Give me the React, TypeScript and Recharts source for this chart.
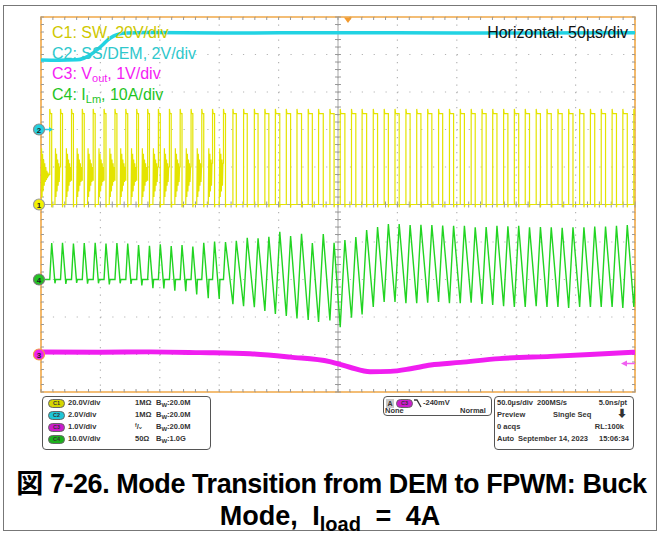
import { LineChart, Line, XAxis, YAxis, CartesianGrid, ReferenceLine, ReferenceDot, ReferenceArea } from 'recharts'

// scope screen: 10 x 10 divisions, time in µs (50 µs/div)
const xDivTicks = [0, 50, 100, 150, 200, 250, 300, 350, 400, 450, 500]
const yDivTicks = [-5, -4, -3, -2, -1, 0, 1, 2, 3, 4, 5]

// one entry per switching cycle: time of the inductor current peak (µs)
const cyclePeakUs = [
  9.0, 18.1, 27.3, 36.4, 45.6, 54.7, 63.9, 73.0, 82.1, 91.3,
  100.4, 109.6, 118.7, 127.8, 137.0, 146.1, 155.3, 164.4, 173.6, 182.7,
  191.8, 201.0, 210.1, 219.3, 228.4, 237.6, 246.7, 255.8, 265.0, 274.1,
  283.3, 292.4, 301.5, 310.7, 319.8, 329.0, 338.1, 347.3, 356.4, 365.5,
  374.7, 383.8, 393.0, 402.1, 411.2, 420.4, 429.5, 438.7, 447.8, 457.0,
  466.1, 475.2, 484.4, 493.5, 502.7,
]
// peak inductor current of each cycle (A)
const ilPeakA = [
  9.7, 9.8, 9.6, 9.7, 9.8, 9.6, 9.7, 9.6, 9.2, 9.0,
  9.4, 8.9, 9.2, 8.8, 9.8, 10.1, 10.0, 10.3, 11.1, 11.0,
  11.4, 12.7, 11.6, 12.2, 9.7, 12.1, 9.8, 10.5, 11.3, 13.2,
  14.0, 14.8, 14.8, 14.5, 14.6, 14.5, 14.4, 14.3, 14.3, 13.9,
  14.0, 14.3, 14.2, 14.3, 13.9, 14.0, 13.9, 13.8, 13.9, 13.9,
  14.1, 14.1, 14.3, 14.5, 14.4,
]
// lowest current reached after each peak (A)
const ilLowA = [
  -1.0, -1.2, -0.9, -1.1, -1.0, -1.3, -1.0, -1.2, -1.6, -2.3,
  -2.4, -3.0, -3.1, -4.0, -5.0, -5.2, -6.6, -7.1, -7.4, -8.4,
  -9.2, -9.7, -10.4, -10.8, -11.3, -10.9, -12.7, -10.2, -9.3, -7.3,
  -6.0, -6.0, -6.3, -6.3, -6.2, -6.0, -6.3, -6.3, -6.2, -6.5,
  -6.8, -7.1, -7.3, -7.3, -7.1, -7.3, -7.3, -7.6, -7.3, -7.3,
  -7.3, -7.3, -7.6, -7.3, -7.3,
]
// first cycles run in DEM (current parks at zero)
const DEM_CYCLES = 16

// SW node ringing while the current sits at zero (V)
const swRingV = [30, 4, 27, 7, 24, 10, 22, 12, 20, 13, 18, 14, 17, 15, 16, 15.5]
const SW_HIGH_V = 48.5
const SW_SPIKE_V = 51

// C2 SS/DEM pin (V)
const ssTimeUs = [0, 15, 30, 36, 42, 47, 52, 56, 61, 66, 72, 90, 150, 250, 350, 500]
const ssVolts = [3.71, 3.7, 3.72, 3.8, 4.0, 4.24, 4.52, 4.77, 4.98, 5.1, 5.15, 5.17, 5.15, 5.16, 5.15, 5.16]

// C3 output voltage deviation (V)
const voutTimeUs = [0, 50, 92, 134, 176, 210, 243, 260, 277, 294, 311, 328, 353, 386, 429, 462, 500]
const voutDeltaV = [0.07, 0.06, 0.07, 0.05, 0.02, -0.07, -0.19, -0.34, -0.46, -0.45, -0.38, -0.28, -0.21, -0.11, -0.05, 0.0, 0.06]

// channel scale (unit/div) and ground position (div)
const chScale = { sw: 20, ss: 2, vout: 1, il: 10 }
const chOffset = { sw: 0, ss: 2, vout: -4, il: -2 }

const RISE_A_PER_US = 5.9
const FALL_A_PER_US = 3.9
const RING_STEP_US = 0.45

type Pt = { t: number; v: number }

const riseFrom = (k: number) => (k === 0 || k - 1 < DEM_CYCLES ? 0 : ilLowA[k - 1])
const riseStartUs = (k: number) => cyclePeakUs[k] - (ilPeakA[k] - riseFrom(k)) / RISE_A_PER_US
const dipUs = (k: number) => cyclePeakUs[k] + (ilPeakA[k] - ilLowA[k]) / FALL_A_PER_US

function buildIl(): Pt[] {
  const pts: Pt[] = [{ t: 0, v: 0 }]
  cyclePeakUs.forEach((tp, k) => {
    pts.push({ t: riseStartUs(k), v: riseFrom(k) })
    pts.push({ t: tp, v: ilPeakA[k] })
    if (k < DEM_CYCLES) {
      pts.push({ t: dipUs(k), v: ilLowA[k] })
      pts.push({ t: dipUs(k) + 0.6, v: 0 })
    }
  })
  return pts
}

function ring(pts: Pt[], from: number, until: number) {
  let level = 0
  let t = from
  for (const v of swRingV) {
    t += RING_STEP_US
    if (t >= until - 0.2) break
    pts.push({ t, v })
    level = v
  }
  return level
}

function buildSw(): Pt[] {
  const pts: Pt[] = [{ t: 0, v: 0 }]
  let level = ring(pts, 0, riseStartUs(0))
  cyclePeakUs.forEach((tp, k) => {
    const ts = riseStartUs(k)
    pts.push(
      { t: ts, v: level },
      { t: ts, v: SW_SPIKE_V },
      { t: ts + 0.5, v: SW_HIGH_V },
      { t: tp, v: SW_HIGH_V },
      { t: tp, v: -1.5 },
      { t: tp + 0.3, v: 0 }
    )
    level = 0
    if (k < DEM_CYCLES) {
      const tz = dipUs(k)
      pts.push({ t: tz, v: 0 })
      level = ring(pts, tz, riseStartUs(k + 1))
    }
  })
  return pts
}

const toDiv = (pts: Pt[], ch: keyof typeof chScale) =>
  pts.map((p) => ({ t: p.t, y: chOffset[ch] + p.v / chScale[ch] }))

const swData = toDiv(buildSw(), 'sw')
const ilData = toDiv(buildIl(), 'il')
const ssData = toDiv(ssTimeUs.map((t, i) => ({ t, v: ssVolts[i] })), 'ss')
const voutData = toDiv(voutTimeUs.map((t, i) => ({ t, v: voutDeltaV[i] })), 'vout')

// minor ticks, 5 per division
const minorX = Array.from({ length: 51 }, (_, i) => i * 10)
const minorY = Array.from({ length: 51 }, (_, i) => -5 + i * 0.2)
const TICK_X = 2.5 // µs, ~3px
const TICK_Y = 0.08 // div, ~3px

const FONT = '"Liberation Sans", Arial, "Noto Sans CJK JP", sans-serif'

const markers = [
  { ch: 'sw', label: '1', fill: '#f2f200', ring: '#9a9a9a' },
  { ch: 'il', label: '4', fill: '#22c322', ring: '#7a7a7a' },
  { ch: 'vout', label: '3', fill: '#f020f0', ring: '#f0a040' },
  { ch: 'ss', label: '2', fill: '#22d0e0', ring: '#8a8a8a' },
] as const

function ChannelMarker(props: any) {
  const { cx, cy, fill, ring: ringColor, label, arrow } = props
  const x = cx - 2
  return (
    <g>
      {arrow && <line x1={x + 5} y1={cy} x2={x + 12} y2={cy} stroke={fill} strokeWidth={1.5} />}
      {arrow && <polygon points={`${x + 14},${cy} ${x + 10},${cy - 2.5} ${x + 10},${cy + 2.5}`} fill={fill} />}
      <circle cx={x} cy={cy} r={5.5} fill={fill} stroke={ringColor} strokeWidth={1.2} />
      <text x={x} y={cy + 3} textAnchor="middle" fontSize={8} fontWeight={700} fontFamily={FONT} fill="#222">
        {label}
      </text>
    </g>
  )
}

const chLabels = [
  { text: ['C1: SW, 20V/div'], color: '#cfc800' },
  { text: ['C2: SS/DEM, 2V/div'], color: '#2ec8cc' },
  { text: ['C3: V', 'out', ', 1V/div'], color: '#f41cf4' },
  { text: ['C4: I', 'Lm', ', 10A/div'], color: '#1fc41f' },
]

const pillColors = ['#d6d600', '#1ec6d6', '#cc1ccc', '#1cb01c']
const panelScale = ['20.0V/div', '2.0V/div', '1.0V/div', '10.0V/div']
const panelTerm = ['1MΩ', '1MΩ', 'ᶠ/ᵥ', '50Ω']
const panelBw = ['20.0M', '20.0M', '20.0M', '1.0G']

const txt: React.CSSProperties = {
  position: 'absolute',
  fontSize: 7.5,
  fontWeight: 700,
  color: '#333',
  lineHeight: '12px',
  whiteSpace: 'nowrap',
  fontFamily: FONT,
}

function Pill({ x, y, color, label }: { x: number; y: number; color: string; label: string }) {
  return (
    <div
      style={{
        position: 'absolute', left: x, top: y, width: 17, height: 9, boxSizing: 'border-box',
        borderRadius: 5, background: color, border: '1px solid #666', fontSize: 5.5,
        fontWeight: 700, color: '#333', textAlign: 'center', lineHeight: '7px', fontFamily: FONT,
      }}
    >
      {label}
    </div>
  )
}

const box: React.CSSProperties = {
  position: 'absolute',
  border: '1px solid #555',
  borderRadius: 4,
  boxSizing: 'border-box',
  background: '#fff',
}

export default function App() {
  const rows = [403, 415, 427, 439]
  return (
    <div style={{ position: 'absolute', left: 0, top: 0, width: 660, height: 534, background: '#fff', overflow: 'hidden' }}>
      <div style={{ position: 'absolute', left: 3, top: 5, width: 654, height: 526, border: '1.5px solid #777', boxSizing: 'border-box' }} />

      <div style={{ position: 'absolute', left: 0, top: 0 }}>
        <LineChart width={660} height={534} margin={{ top: 17, right: 25, bottom: 142, left: 41 }}>
          <XAxis type="number" dataKey="t" domain={[0, 500]} ticks={xDivTicks} hide allowDataOverflow />
          <YAxis type="number" domain={[-5, 5]} ticks={yDivTicks} hide allowDataOverflow />
          <CartesianGrid vertical={false} stroke="#b4b4b4" strokeWidth={1.2} strokeDasharray="1.2 10.68" />
          <CartesianGrid horizontal={false} stroke="#b4b4b4" strokeWidth={1.2} strokeDasharray="1.2 6.3" />
          <ReferenceLine x={250} stroke="#a8a8a8" />
          <ReferenceLine y={0} stroke="#a8a8a8" />
          {minorX.map((t) => (
            <ReferenceLine key={`tx${t}`} segment={[{ x: t, y: 5 }, { x: t, y: 5 - TICK_Y }]} stroke="#999" />
          ))}
          {minorX.map((t) => (
            <ReferenceLine key={`bx${t}`} segment={[{ x: t, y: -5 }, { x: t, y: -5 + TICK_Y }]} stroke="#999" />
          ))}
          {minorX.map((t) => (
            <ReferenceLine key={`cx${t}`} segment={[{ x: t, y: -TICK_Y }, { x: t, y: TICK_Y }]} stroke="#999" />
          ))}
          {minorY.map((v) => (
            <ReferenceLine key={`ly${v}`} segment={[{ x: 0, y: v }, { x: TICK_X, y: v }]} stroke="#999" />
          ))}
          {minorY.map((v) => (
            <ReferenceLine key={`ry${v}`} segment={[{ x: 500 - TICK_X, y: v }, { x: 500, y: v }]} stroke="#999" />
          ))}
          {minorY.map((v) => (
            <ReferenceLine key={`cy${v}`} segment={[{ x: 250 - TICK_X, y: v }, { x: 250 + TICK_X, y: v }]} stroke="#999" />
          ))}

          <Line data={swData} dataKey="y" type="linear" stroke="#e4e400" strokeWidth={1.2} dot={false} activeDot={false} isAnimationActive={false} />
          <Line data={ssData} dataKey="y" type="monotone" stroke="#22d3e3" strokeWidth={3.5} dot={false} activeDot={false} isAnimationActive={false} />
          <Line data={voutData} dataKey="y" type="monotone" stroke="#f01ef0" strokeWidth={5} dot={false} activeDot={false} isAnimationActive={false} />
          <Line data={ilData} dataKey="y" type="linear" stroke="#22d422" strokeWidth={1.4} dot={false} activeDot={false} isAnimationActive={false} />

          <ReferenceArea x1={0} x2={500} y1={-5} y2={5} fill="none" fillOpacity={0} stroke="#f0a848" strokeWidth={1.6} />

          {markers.map((m) => (
            <ReferenceDot
              key={m.label}
              x={0}
              y={chOffset[m.ch]}
              r={5}
              shape={(p: any) => (
                <ChannelMarker cx={p.cx} cy={p.cy} fill={m.fill} ring={m.ring} label={m.label} arrow={m.label === '2'} />
              )}
            />
          ))}
          {/* trigger position */}
          <ReferenceDot
            x={258.4}
            y={5}
            r={4}
            shape={(p: any) => (
              <polygon points={`${p.cx - 4},${p.cy + 0.5} ${p.cx + 4},${p.cy + 0.5} ${p.cx},${p.cy + 6}`} fill="#f29a2e" />
            )}
          />
          {/* trigger level on C3: -240mV */}
          <ReferenceDot
            x={500}
            y={chOffset.vout - 0.24}
            r={4}
            shape={(p: any) => (
              <g>
                <line x1={p.cx - 9} y1={p.cy} x2={p.cx} y2={p.cy} stroke="#f060f0" strokeWidth={1.5} />
                <polygon points={`${p.cx - 14},${p.cy} ${p.cx - 8},${p.cy - 3} ${p.cx - 8},${p.cy + 3}`} fill="#f060f0" />
              </g>
            )}
          />
        </LineChart>
      </div>

      {chLabels.map((l, i) => (
        <div
          key={i}
          style={{
            position: 'absolute', left: 52, top: 23 + i * 20.5, fontSize: 16, lineHeight: '20px',
            color: l.color, fontFamily: FONT, whiteSpace: 'nowrap',
          }}
        >
          {l.text[0]}
          {l.text[1] && <sub style={{ fontSize: 11, verticalAlign: '-3px', lineHeight: 0 }}>{l.text[1]}</sub>}
          {l.text[2]}
        </div>
      ))}
      <div style={{ position: 'absolute', right: 32, top: 23, fontSize: 16, lineHeight: '20px', color: '#111', fontFamily: FONT }}>
        Horizontal: 50µs/div
      </div>

      {/* vertical settings */}
      <div style={{ ...box, left: 42, top: 396, width: 169, height: 54 }} />
      {rows.map((y, i) => (
        <div key={`r${i}`}>
          <Pill x={48} y={y - 4.5} color={pillColors[i]} label={`C${i + 1}`} />
          <div style={{ ...txt, left: 68, top: y - 6 }}>{panelScale[i]}</div>
          <div style={{ ...txt, left: 135, top: y - 6 }}>{panelTerm[i]}</div>
          <div style={{ ...txt, left: 156, top: y - 6 }}>
            B<sub style={{ fontSize: 6, verticalAlign: '-2px', lineHeight: 0 }}>W</sub>:{panelBw[i]}
          </div>
        </div>
      ))}

      {/* trigger */}
      <div style={{ ...box, left: 383, top: 396, width: 109, height: 20 }} />
      <div style={{ ...txt, left: 386, top: 398.5, width: 8, height: 9, lineHeight: '9px', background: '#c8c8c8', textAlign: 'center', fontSize: 7 }}>A</div>
      <Pill x={396} y={398.5} color={pillColors[2]} label="C3" />
      <svg style={{ position: 'absolute', left: 414, top: 398 }} width={8} height={10}>
        <polyline points="0,2 3,2 7,9" fill="none" stroke="#333" strokeWidth={1.3} />
      </svg>
      <div style={{ ...txt, left: 423, top: 397 }}>-240mV</div>
      <div style={{ ...txt, left: 385, top: 405 }}>None</div>
      <div style={{ ...txt, left: 460, top: 405 }}>Normal</div>

      {/* acquisition */}
      <div style={{ ...box, left: 494, top: 396, width: 140, height: 54 }} />
      <div style={{ ...txt, left: 497, top: rows[0] - 6 }}>50.0µs/div</div>
      <div style={{ ...txt, left: 537, top: rows[0] - 6 }}>200MS/s</div>
      <div style={{ ...txt, right: 33, top: rows[0] - 6 }}>5.0ns/pt</div>
      <div style={{ ...txt, left: 497, top: rows[1] - 6 }}>Preview</div>
      <div style={{ ...txt, left: 553, top: rows[1] - 6 }}>Single Seq</div>
      <div style={{ ...txt, left: 617, top: rows[1] - 7, fontSize: 10 }}>⬇</div>
      <div style={{ ...txt, left: 497, top: rows[2] - 6 }}>0 acqs</div>
      <div style={{ ...txt, right: 36, top: rows[2] - 6 }}>RL:100k</div>
      <div style={{ ...txt, left: 497, top: rows[3] - 6 }}>Auto</div>
      <div style={{ ...txt, left: 518, top: rows[3] - 6 }}>September 14, 2023</div>
      <div style={{ ...txt, right: 31, top: rows[3] - 6 }}>15:06:34</div>

      {/* caption */}
      <div
        style={{
          position: 'absolute', left: 0, width: 660, top: 468, textAlign: 'center', fontSize: 27,
          fontWeight: 700, lineHeight: '32px', fontFamily: FONT, color: '#000', whiteSpace: 'nowrap',
        }}
      >
        <div style={{ letterSpacing: -0.45, marginLeft: 3 }}>図 7-26. Mode Transition from DEM to FPWM: Buck</div>
        <div style={{ wordSpacing: 7 }}>
          Mode, I<sub style={{ fontSize: 20, verticalAlign: '-6px', lineHeight: 0 }}>load</sub> = 4A
        </div>
      </div>
    </div>
  )
}
